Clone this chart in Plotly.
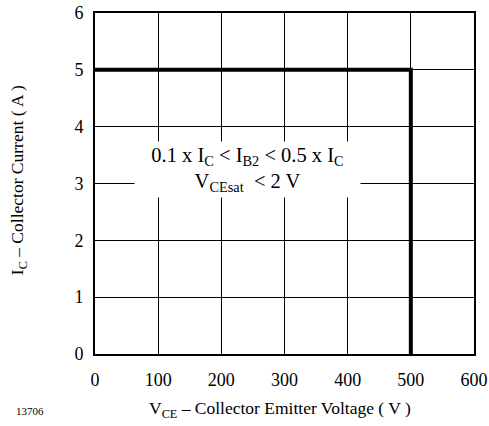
import plotly.graph_objects as go

vce = [0, 500, 500]
ic = [5, 5, 0]
x_ticks = [0, 100, 200, 300, 400, 500, 600]
y_ticks = [0, 1, 2, 3, 4, 5, 6]

FONT = "Liberation Serif"

fig = go.Figure()
fig.add_trace(go.Scatter(x=vce, y=ic, mode="lines",
                         line=dict(color="black", width=4), showlegend=False,
                         cliponaxis=False, hoverinfo="skip"))

axis_common = dict(showgrid=True, gridcolor="black", gridwidth=1, zeroline=False,
                   showline=True, linecolor="black", linewidth=2, mirror=True,
                   ticks="", ticklen=0, automargin=False, ticklabeloverflow="allow",
                   tickfont=dict(family=FONT, size=18, color="black"))

fig.update_layout(
    width=489, height=426,
    margin=dict(l=95, r=15, t=13, b=72),
    paper_bgcolor="white", plot_bgcolor="white",
    font=dict(family=FONT, size=18, color="black"),
    xaxis=dict(range=[0, 600], tickvals=x_ticks, ticklabelstandoff=8, **axis_common),
    yaxis=dict(range=[0, 6], tickvals=y_ticks, ticklabelstandoff=6, **axis_common),
)

fig.add_annotation(x=242, y=3.24, xref="x", yref="y", showarrow=False,
                   text="0.1 x I<sub>C</sub> < I<sub>B2</sub> < 0.5 x I<sub>C</sub><br>V<sub>CEsat</sub>  < 2 V",
                   font=dict(family=FONT, size=20.5, color="black"), bgcolor="white",
                   width=223, height=53, align="center")

fig.add_annotation(x=0.488, y=-0.164, xref="paper", yref="paper", showarrow=False,
                   xanchor="center", yanchor="middle",
                   text="V<sub>CE</sub> – Collector Emitter Voltage ( V )",
                   font=dict(family=FONT, size=17.5, color="black"))

fig.add_annotation(x=-0.203, y=0.51, xref="paper", yref="paper", showarrow=False,
                   xanchor="center", yanchor="middle", textangle=-90,
                   text="I<sub>C</sub> – Collector Current ( A )",
                   font=dict(family=FONT, size=17.5, color="black"))

fig.add_annotation(x=-0.172, y=-0.167, xref="paper", yref="paper", showarrow=False,
                   xanchor="center", yanchor="middle",
                   text="13706", font=dict(family=FONT, size=11, color="black"))

fig.write_html("out.html", config={"displayModeBar": False},
               post_script="document.body.style.margin='0';document.body.style.overflow='hidden';")
